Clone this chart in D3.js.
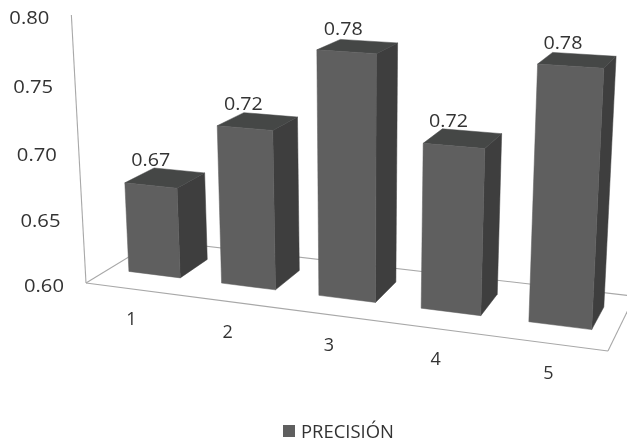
<!DOCTYPE html>
<html><head><meta charset="utf-8">
<style>html,body{margin:0;padding:0;background:#fff}svg{display:block;filter:blur(0.45px)}text{font-family:"Open Sans",sans-serif;fill:#333}</style>
<script src="https://d3js.org/d3.v7.min.js"></script></head><body>
<svg id="c" width="627" height="442"></svg>
<script>
const categories = ["1","2","3","4","5"];
const values = [0.67,0.72,0.78,0.72,0.78];
const valueLabels = ["0.67","0.72","0.78","0.72","0.78"];
const yTicks = [0.60,0.65,0.70,0.75,0.80];
const seriesName = "PRECISIÓN";

// world scales (unit cube: X along categories, Y up, Z into depth)
const xS = d3.scaleBand().domain(categories).range([0,1]).paddingInner(0.44).paddingOuter(0.22);
const yS = d3.scaleLinear().domain([0.6,0.8]).range([0,1]);
const zFront = 0.31, zBack = 0.73;

// perspective camera: origin + weighted vanishing points
const O=[86,283,1], VX=[-3667,-206,1], VY=[360,5300,1], VZ=[876,-198,1];
const wX=-0.1221, wY=-0.0507, wZ=0.0972;
function P(X,Y,Z){
  const h=[0,1,2].map(i=>O[i]+wX*X*VX[i]+wY*Y*VY[i]+wZ*Z*VZ[i]);
  return [h[0]/h[2],h[1]/h[2]];
}
const line=d3.line();
const svg=d3.select("#c");
const axisColor="#a8a8a8";
const frame=[[[0,0,0],[1,0,0]],[[0,0,0],[0,1,0]],[[0,0,0],[0,0,1]],[[0,0,1],[1,0,1]],[[1,0,0],[1,0,1]]];
svg.append("g").selectAll("path").data(frame).join("path")
  .attr("d",d=>line(d.map(p=>P(...p)))).attr("fill","none").attr("stroke",axisColor).attr("stroke-width",1.1);

const bars=svg.append("g").selectAll("g").data(categories).join("g");
function face(sel,fn,color){
  sel.append("path").attr("d",(c,i)=>{
    const x0=xS(c),x1=x0+xS.bandwidth(),y=yS(values[i]);
    return line(fn(x0,x1,y).map(p=>P(...p)))+"Z";
  }).attr("fill",color).attr("stroke",color).attr("stroke-width",0.5);
}
face(bars,(a,b,y)=>[[b,0,zFront],[b,0,zBack],[b,y,zBack],[b,y,zFront]],"#3e3e3e");
face(bars,(a,b,y)=>[[a,y,zFront],[b,y,zFront],[b,y,zBack],[a,y,zBack]],"#454746");
face(bars,(a,b,y)=>[[a,0,zFront],[b,0,zFront],[b,y,zFront],[a,y,zFront]],"#5f5f5f");

const FS=18.5;
svg.append("g").selectAll("text").data(yTicks).join("text")
  .attr("x",d=>P(0,yS(d),0)[0]-62).attr("y",d=>P(0,yS(d),0)[1]+1)
  .attr("dominant-baseline","central").attr("font-size",FS)
  .attr("textLength",40).attr("lengthAdjust","spacingAndGlyphs")
  .text(d=>d.toFixed(2));

svg.append("g").selectAll("text").data(categories).join("text")
  .attr("x",c=>P(xS(c)+xS.bandwidth()/2,0,0)[0]-1).attr("y",c=>P(xS(c)+xS.bandwidth()/2,0,0)[1]+29)
  .attr("text-anchor","middle").attr("dominant-baseline","central").attr("font-size",18)
  .text(c=>c);

svg.append("g").selectAll("text").data(categories).join("text")
  .attr("x",(c,i)=>P(xS(c)+xS.bandwidth()/2,yS(values[i]),(zFront+zBack)/2)[0]-34)
  .attr("y",(c,i)=>P(xS(c)+xS.bandwidth()/2,yS(values[i]),(zFront+zBack)/2)[1]-19)
  .attr("dominant-baseline","central").attr("font-size",FS)
  .attr("textLength",39).attr("lengthAdjust","spacingAndGlyphs")
  .text((c,i)=>valueLabels[i]);

const lg=svg.append("g");
lg.append("rect").attr("x",283).attr("y",425).attr("width",12).attr("height",12).attr("fill","#5f5f5f");
lg.append("text").attr("x",301).attr("y",431).attr("dominant-baseline","central")
  .attr("font-size",17.5).attr("textLength",93).attr("lengthAdjust","spacingAndGlyphs").text(seriesName);
</script></body></html>
